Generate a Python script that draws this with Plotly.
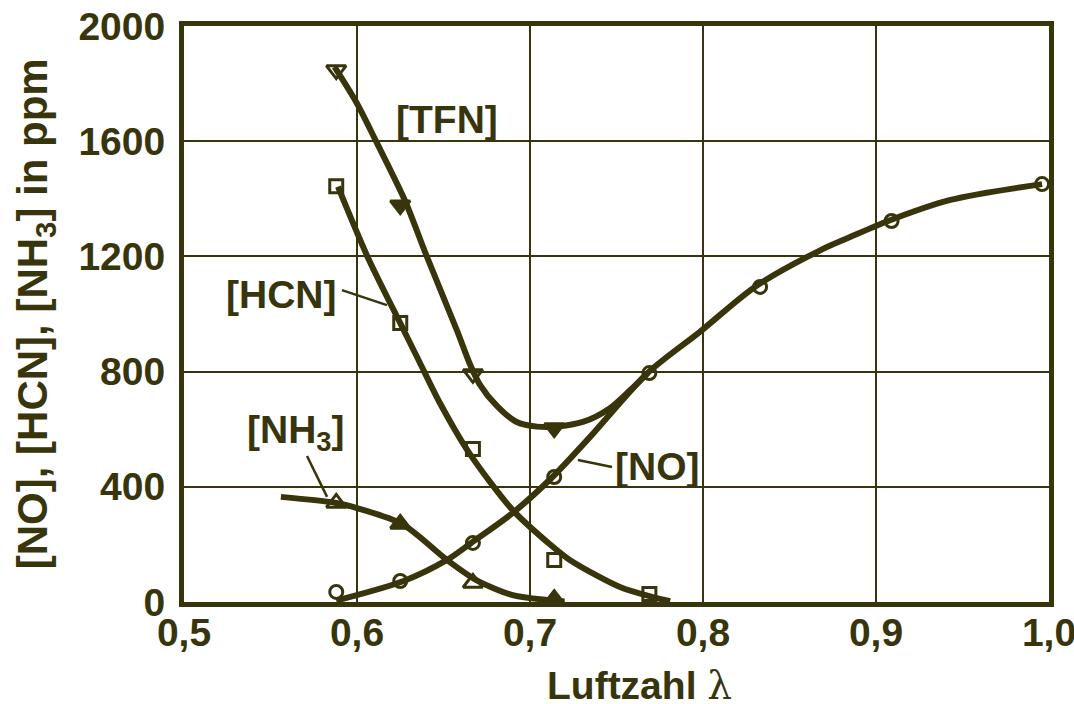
import plotly.graph_objects as go

INK = "#38350c"
FONT = "Liberation Sans, Arial, sans-serif"

# Measured points (Luftzahl, concentration in ppm)
lam_tfn = [0.588, 0.625, 0.667, 0.714]
tfn_meas = [1847, 1378, 792, 604]

lam_hcn = [0.588, 0.625, 0.667, 0.714, 0.769]
hcn_meas = [1444, 969, 531, 146, 28]

lam_nh3 = [0.588, 0.625, 0.667, 0.714]
nh3_meas = [344, 271, 66, 10]

lam_no = [0.588, 0.625, 0.667, 0.714, 0.769, 0.833, 0.909, 0.996]
no_meas = [35, 73, 205, 434, 795, 1094, 1323, 1451]

# Fitted trend curves
lam_tfn_fit = [0.587, 0.600, 0.611, 0.628, 0.640, 0.658, 0.665, 0.671,
               0.681, 0.692, 0.704, 0.715, 0.731, 0.746, 0.758, 0.768]
tfn_fit = [1858, 1731, 1600, 1390, 1205, 940, 830, 755,
           680, 626, 609, 609, 626, 672, 736, 795]

lam_hcn_fit = [0.589, 0.606, 0.626, 0.636, 0.648, 0.665, 0.690, 0.710, 0.723,
               0.752, 0.771, 0.781]
hcn_fit = [1442, 1200, 956, 835, 690, 516, 319, 208, 146,
           52, 17, 3]

lam_nh3_fit = [0.556, 0.588, 0.600, 0.626, 0.652, 0.669, 0.690, 0.710, 0.720]
nh3_fit = [365, 344, 326, 271, 146, 76, 24, 7, 2]

lam_no_fit = [0.588, 0.627, 0.652, 0.666, 0.690, 0.713, 0.735, 0.768, 0.798, 0.830, 0.868,
              0.885, 0.907, 0.943, 0.996]
no_fit = [5, 73, 146, 205, 309, 434, 575, 795, 937, 1094, 1222,
          1267, 1323, 1396, 1451]

x_ticks = [0.5, 0.6, 0.7, 0.8, 0.9, 1.0]
y_ticks = [0, 400, 800, 1200, 1600, 2000]

fig = go.Figure()


def curve(x, y):
    fig.add_trace(go.Scatter(x=x, y=y, mode="lines",
                             line=dict(color=INK, width=6, shape="spline", smoothing=0.8),
                             hoverinfo="skip", showlegend=False))


def points(x, y, symbols, size):
    fig.add_trace(go.Scatter(x=x, y=y, mode="markers",
                             marker=dict(symbol=symbols, size=size, color=INK,
                                         line=dict(color=INK, width=3)),
                             showlegend=False))


curve(lam_tfn_fit, tfn_fit)
curve(lam_hcn_fit, hcn_fit)
curve(lam_nh3_fit, nh3_fit)
curve(lam_no_fit, no_fit)

points(lam_tfn, tfn_meas, ["triangle-down-open", "triangle-down", "triangle-down-open", "triangle-down"], 17)
points(lam_hcn, hcn_meas, "square-open", 13)
points(lam_nh3, nh3_meas, ["triangle-up-open", "triangle-up", "triangle-up-open", "triangle-up"], 17)
points(lam_no, no_meas, "circle-open", 13)

# Curve labels with leader lines
labels = [
    ("[TFN]", 0.652, 1674),
    ("[HCN]", 0.5561, 1066),
    ("[NH<sub>3</sub>]", 0.5647, 587),
    ("[NO]", 0.7734, 472),
]
for text, lx, ly in labels:
    fig.add_annotation(x=lx, y=ly, text=text, showarrow=False,
                       font=dict(family=FONT, size=39, color=INK),
                       xanchor="center", yanchor="middle")

leaders = [
    (0.5913, 1083, 0.6173, 1031),
    (0.5711, 507, 0.5827, 365),
    (0.7277, 493, 0.7474, 469),
]
for x0, y0, x1, y1 in leaders:
    fig.add_shape(type="line", x0=x0, y0=y0, x1=x1, y1=y1, xref="x", yref="y",
                  line=dict(color=INK, width=2.5))

# Axis titles
fig.add_annotation(x=-0.172, y=0.5, xref="paper", yref="paper", textangle=-90,
                   text="[NO], [HCN], [NH<sub>3</sub>] in ppm", showarrow=False,
                   font=dict(family=FONT, size=42, color=INK),
                   xanchor="center", yanchor="middle")
fig.add_annotation(x=0.527, y=-0.145, xref="paper", yref="paper",
                   text="Luftzahl <span style='font-family:DejaVu Serif;font-weight:normal'>λ</span>",
                   showarrow=False, font=dict(family=FONT, size=39, color=INK),
                   xanchor="center", yanchor="middle")

axis_common = dict(showline=True, linecolor=INK, linewidth=5, mirror=True,
                   showgrid=True, gridcolor=INK, gridwidth=2, zeroline=False,
                   ticks="", automargin=False,
                   tickfont=dict(family=FONT, size=39, color=INK))

fig.update_xaxes(range=[0.5, 1.0], tickvals=x_ticks, tickformat=".1f",
                 ticklabelstandoff=-8, ticklabeloverflow="allow", **axis_common)
fig.update_yaxes(range=[0, 2000], tickvals=y_ticks, ticklabelstandoff=6, **axis_common)

fig.update_layout(
    width=1074, height=704,
    margin=dict(l=184, r=25, t=26, b=102),
    paper_bgcolor="white", plot_bgcolor="white",
    separators=",.",
    font=dict(family=FONT, size=39, color=INK, weight="bold"),
)

fig.write_html("out.html")
